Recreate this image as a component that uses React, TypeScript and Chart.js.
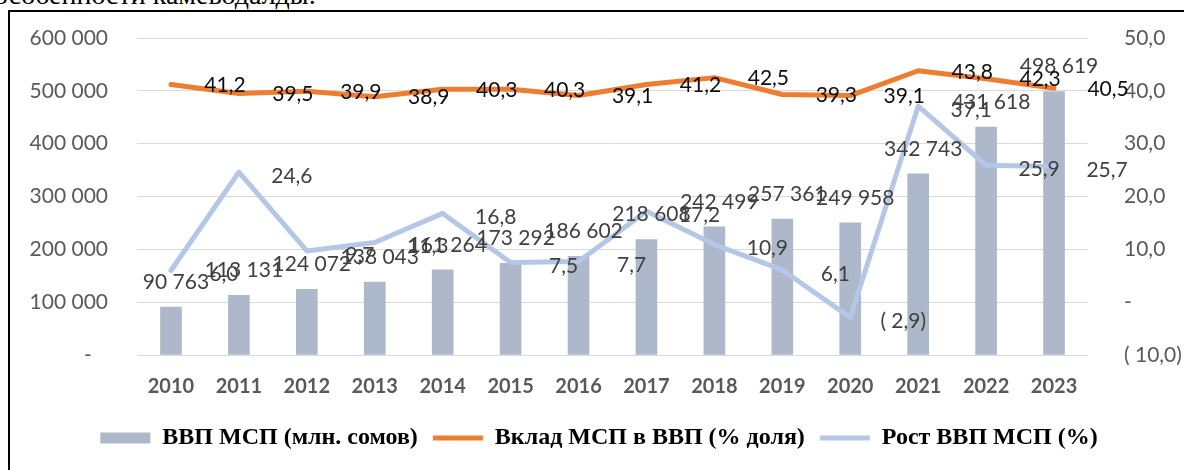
import React, { useEffect, useRef } from 'react';
import { Chart, registerables } from 'chart.js';

Chart.register(...registerables);

const years = ['2010', '2011', '2012', '2013', '2014', '2015', '2016', '2017', '2018', '2019', '2020', '2021', '2022', '2023'];
const smeGdp = [90763, 113131, 124072, 138043, 161264, 173292, 186602, 218608, 242499, 257361, 249958, 342743, 431618, 498619];
const smeShare = [41.2, 39.5, 39.9, 38.9, 40.3, 40.3, 39.1, 41.2, 42.5, 39.3, 39.1, 43.8, 42.3, 40.5];
const smeGrowth = [6.0, 24.6, 9.7, 11.3, 16.8, 7.5, 7.7, 17.2, 10.9, 6.1, -2.9, 37.1, 25.9, 25.7];

const seriesNames = ['ВВП МСП (млн. сомов)', 'Вклад МСП в ВВП (% доля)', 'Рост ВВП МСП (%)'];
const headerText = 'особенности камеводалды.';

const fmtThousands = (v: number) => String(Math.round(v)).replace(/\B(?=(\d{3})+(?!\d))/g, ' ');
const fmtPct = (v: number) => {
  if (v < 0) return `( ${Math.abs(v).toFixed(1).replace('.', ',')})`;
  if (v === 0) return '-';
  return v.toFixed(1).replace('.', ',');
};

const labelPlugin = {
  id: 'valueLabels',
  afterDatasetsDraw(chart: any) {
    const ctx = chart.ctx;
    ctx.save();
    ctx.font = '21px Lato';
    ctx.textBaseline = 'middle';
    ctx.textAlign = 'center';
    chart.data.datasets.forEach((ds: any, i: number) => {
      const meta = chart.getDatasetMeta(i);
      meta.data.forEach((el: any, j: number) => {
        const v = ds.data[j] as number;
        if (i === 0) {
          ctx.fillStyle = '#404040';
          ctx.fillText(fmtThousands(v), el.x + 5, el.y - 25);
        } else if (i === 1) {
          ctx.fillStyle = '#0d0d0d';
          ctx.fillText(fmtPct(v), el.x + 54, el.y + 1);
        } else {
          ctx.fillStyle = '#404040';
          ctx.fillText(fmtPct(v), el.x + 53, el.y + 4);
        }
      });
    });
    ctx.restore();
  },
};

export default function App() {
  const ref = useRef<HTMLCanvasElement | null>(null);

  useEffect(() => {
    if (!ref.current) return;
    const chart = new Chart(ref.current, {
      type: 'bar',
      data: {
        labels: years,
        datasets: [
          {
            type: 'bar',
            label: seriesNames[0],
            data: smeGdp,
            backgroundColor: '#ADB9CA',
            borderWidth: 0,
            barThickness: 21,
            yAxisID: 'y',
            order: 3,
            pointStyle: 'rect',
          } as any,
          {
            type: 'line',
            label: seriesNames[1],
            data: smeShare,
            borderColor: '#ED7D31',
            backgroundColor: '#ED7D31',
            borderWidth: 5,
            pointRadius: 0,
            pointStyle: 'line',
            borderJoinStyle: 'round',
            borderCapStyle: 'round',
            tension: 0,
            yAxisID: 'y1',
            order: 2,
          } as any,
          {
            type: 'line',
            label: seriesNames[2],
            data: smeGrowth,
            borderColor: '#B4C7E7',
            backgroundColor: '#B4C7E7',
            borderWidth: 5,
            pointRadius: 0,
            pointStyle: 'line',
            borderJoinStyle: 'round',
            borderCapStyle: 'round',
            tension: 0,
            yAxisID: 'y1',
            order: 1,
          } as any,
        ],
      },
      options: {
        responsive: false,
        animation: false,
        devicePixelRatio: 1,
        layout: { autoPadding: false, padding: { top: 26, left: 0, right: 0, bottom: 22 } },
        plugins: {
          legend: {
            position: 'bottom',
            labels: {
              usePointStyle: true,
              pointStyleWidth: 50,
              boxHeight: 11,
              padding: 15,
              color: '#000',
              font: { family: '"Liberation Serif", "Times New Roman", serif', size: 24, weight: 'bold' },
              sort: (a: any, b: any) => a.datasetIndex - b.datasetIndex,
            },
          },
          tooltip: { enabled: false },
        },
        scales: {
          x: {
            grid: { display: false },
            border: { display: false },
            ticks: {
              color: '#595959',
              font: { family: 'Lato', size: 20, weight: 'bold' },
              padding: 12,
            },
            afterFit: (s: any) => { s.height = 56; },
          },
          y: {
            position: 'left',
            min: 0,
            max: 600000,
            ticks: {
              stepSize: 100000,
              color: '#595959',
              font: { family: 'Lato', size: 21 },
              padding: 29,
              callback: (v: any) => (Number(v) === 0 ? '-   ' : fmtThousands(Number(v))),
            },
            grid: { color: '#D9D9D9', lineWidth: 1, drawTicks: false },
            border: { display: false },
            afterFit: (s: any) => { s.width = 127; s.paddingTop = 0; s.paddingBottom = 0; },
          },
          y1: {
            position: 'right',
            min: -10,
            max: 50,
            ticks: {
              stepSize: 10,
              color: '#595959',
              font: { family: 'Lato', size: 21 },
              padding: 36,
              callback: (v: any) => fmtPct(Number(v)),
            },
            grid: { display: false, drawTicks: false },
            border: { display: false },
            afterFit: (s: any) => { s.width = 100; s.paddingTop = 0; s.paddingBottom = 0; },
          },
        },
      } as any,
      plugins: [labelPlugin],
    });
    return () => chart.destroy();
  }, []);

  return (
    <div style={{ position: 'fixed', left: 0, top: 0, width: 1184, height: 470, overflow: 'hidden', background: '#fff' }}>
      <div
        style={{
          position: 'absolute',
          left: -6,
          top: -21,
          fontFamily: '"Liberation Serif", "Times New Roman", serif',
          fontSize: 28,
          lineHeight: '32px',
          color: '#000',
          whiteSpace: 'nowrap',
        }}
      >
        {headerText}
      </div>
      <div
        style={{
          position: 'absolute',
          left: 8,
          top: 10,
          width: 1280,
          height: 520,
          border: '2px solid #000',
          boxSizing: 'border-box',
          background: 'transparent',
        }}
      />
      <canvas
        ref={ref}
        width={1178}
        height={470}
        style={{ position: 'absolute', left: 10, top: 12, width: 1178, height: 470 }}
      />
    </div>
  );
}
